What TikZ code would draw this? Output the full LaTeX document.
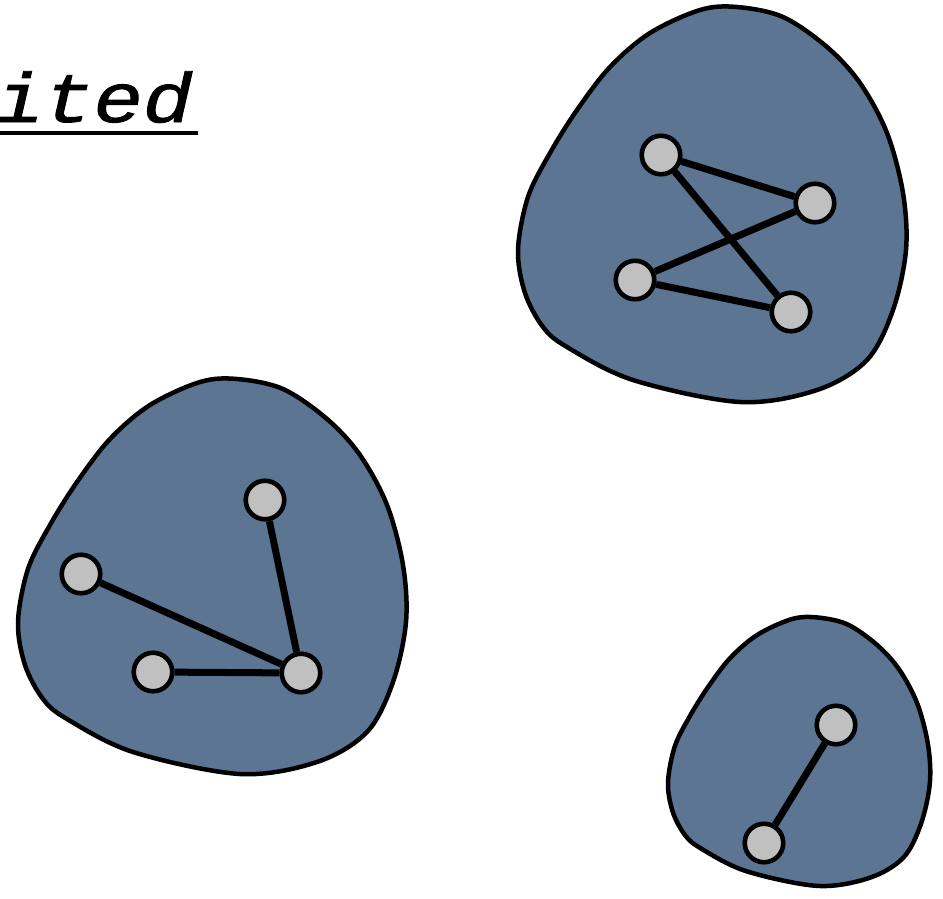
\documentclass[tikz,border=0pt]{standalone}
\usepackage{fontspec}
\setmonofont{Liberation Mono}
\newfontfamily\titlefont{Liberation Mono}[ItalicFeatures={FakeBold=1.2}]
\definecolor{blobfill}{RGB}{92,117,146}
\definecolor{nodefill}{RGB}{192,192,192}
\tikzset{
  blob/.style={draw=black, line width=4.5pt, fill=blobfill},
  vtx/.style={circle, draw=black, line width=4.6pt, fill=nodefill, minimum size=38.5pt, inner sep=0pt},
  link/.style={line width=7pt, draw=black},
  uline/.style={line width=4pt, draw=black}
}
\newcommand\blobcurve{%
  \path[blob] plot[smooth cycle, tension=0.55] coordinates {
      (219,-1) (265,9) (309,39) (342,75) (369,125) (385,185) (388,242)
      (375,302) (349,352) (299,382) (222,394) (115,372) (49,339) (25,319)
      (7,285) (0,242) (10,189) (32,145) (59,102) (92,59) (132,25) (182,2)};}
\begin{document}
\begin{tikzpicture}[x=1pt,y=-1pt]
\useasboundingbox (0,0) rectangle (943,898);
% title
\node[anchor=base west, inner sep=0pt, xscale=1.18, transform shape, font=\fontsize{70}{84}\selectfont\titlefont\itshape] (title) at (-6,122) {ited};
\draw[uline] ([yshift=-11pt,xshift=-4pt]title.base west) -- ([yshift=-11pt,xshift=5pt]title.base east);
% blobs
\begin{scope}[shift={(518,8)}]
  \blobcurve
\end{scope}
\begin{scope}[shift={(18,380)}]
  \blobcurve
\end{scope}
\begin{scope}[shift={(668,618)}, x=0.675pt, y=-0.68pt]
  \blobcurve
\end{scope}
% blob 1 graph
\node[vtx] (a1) at (661,155) {};
\node[vtx] (a2) at (815,203) {};
\node[vtx] (a3) at (635,280) {};
\node[vtx] (a4) at (791,312) {};
\draw[link] (a1) -- (a2);
\draw[link] (a1) -- (a4);
\draw[link] (a3) -- (a2);
\draw[link] (a3) -- (a4);
% blob 2 graph
\node[vtx] (b1) at (265,500) {};
\node[vtx] (b2) at (81,574) {};
\node[vtx] (b3) at (153,672) {};
\node[vtx] (b4) at (301,673) {};
\draw[link] (b1) -- (b4);
\draw[link] (b2) -- (b4);
\draw[link] (b3) -- (b4);
% blob 3 graph
\node[vtx] (c1) at (836,725) {};
\node[vtx] (c2) at (764,843) {};
\draw[link] (c1) -- (c2);
\end{tikzpicture}
\end{document}
